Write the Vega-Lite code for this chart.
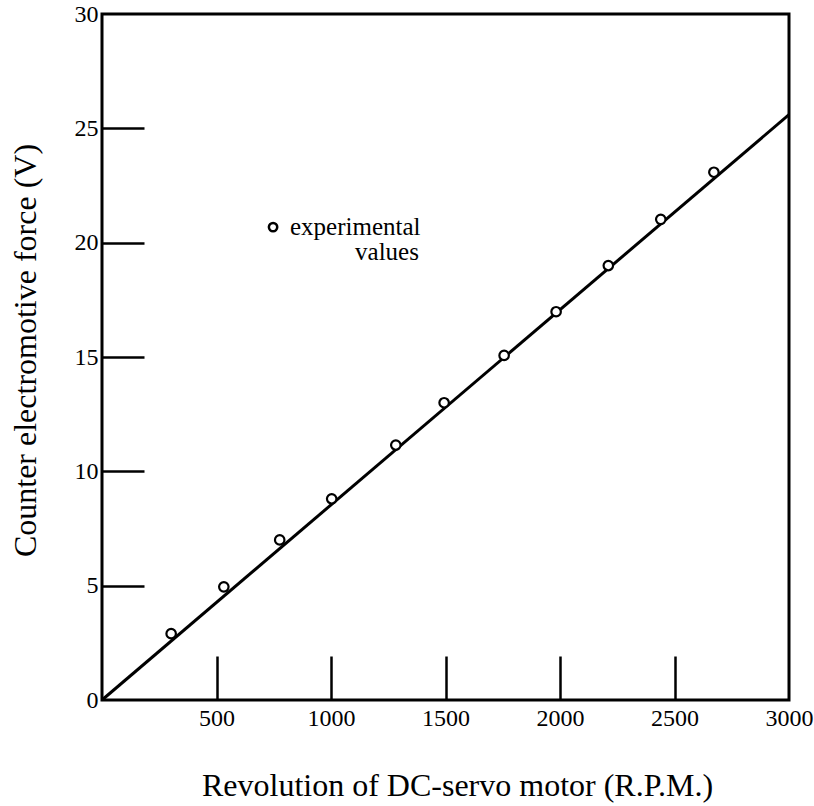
{
  "$schema": "https://vega.github.io/schema/vega-lite/v6.json",
  "width": 687,
  "height": 686,
  "autosize": {"type": "none"},
  "padding": {"left": 102, "top": 14, "right": 25, "bottom": 106},
  "background": "white",
  "config": {
    "view": {"stroke": "black", "strokeWidth": 3},
    "font": "'Liberation Serif', 'DejaVu Serif', serif"
  },
  "encoding": {
    "x": {
      "field": "rpm", "type": "quantitative",
      "scale": {"domain": [0, 3000], "nice": false, "zero": false},
      "axis": {
        "title": "Revolution of DC-servo motor (R.P.M.)",
        "values": [500, 1000, 1500, 2000, 2500, 3000],
        "format": "d",
        "grid": false, "domain": false,
        "tickSize": -44, "tickWidth": 2.5, "tickColor": "black",
        "tickOpacity": {"condition": {"test": "datum.value == 3000", "value": 0}, "value": 1},
        "labelFont": "'Liberation Serif', 'DejaVu Serif', serif", "labelFontSize": 24, "labelColor": "black",
        "labelPadding": 50, "labelFlush": false,
        "titleFont": "'Liberation Serif', 'DejaVu Serif', serif", "titleFontSize": 32, "titleFontWeight": "normal", "titleColor": "black",
        "titleX": 355, "titleY": 85, "titleBaseline": "middle", "titleAlign": "center"
      }
    },
    "y": {
      "field": "emf", "type": "quantitative",
      "scale": {"domain": [0, 30], "nice": false},
      "axis": {
        "title": "Counter electromotive force (V)",
        "values": [0, 5, 10, 15, 20, 25, 30],
        "format": "d",
        "grid": false, "domain": false,
        "tickSize": -42, "tickWidth": 2.5, "tickColor": "black",
        "tickOpacity": {"condition": {"test": "datum.value == 0 || datum.value == 30", "value": 0}, "value": 1},
        "labelFont": "'Liberation Serif', 'DejaVu Serif', serif", "labelFontSize": 24, "labelColor": "black",
        "labelPadding": 46, "labelFlush": false,
        "titleFont": "'Liberation Serif', 'DejaVu Serif', serif", "titleFontSize": 32, "titleFontWeight": "normal", "titleColor": "black",
        "titleX": -77, "titleY": 336, "titleBaseline": "middle", "titleAlign": "center", "titleAngle": -90
      }
    }
  },
  "layer": [
    {
      "data": {"values": [{"rpm": 0, "emf": 0}, {"rpm": 3000, "emf": 25.6}]},
      "mark": {"type": "line", "color": "black", "strokeWidth": 3}
    },
    {
      "data": {"values": [
        {"rpm": 302, "emf": 2.9},
        {"rpm": 532, "emf": 4.95},
        {"rpm": 776, "emf": 7.0},
        {"rpm": 1003, "emf": 8.8},
        {"rpm": 1283, "emf": 11.15},
        {"rpm": 1494, "emf": 13.0},
        {"rpm": 1756, "emf": 15.07},
        {"rpm": 1983, "emf": 16.98},
        {"rpm": 2211, "emf": 19.0},
        {"rpm": 2440, "emf": 21.02},
        {"rpm": 2672, "emf": 23.08}
      ]},
      "mark": {"type": "point", "shape": "circle", "filled": false, "fill": "white", "fillOpacity": 1, "stroke": "black", "strokeWidth": 2.2, "size": 90, "opacity": 1}
    },
    {
      "data": {"values": [{"rpm": 747, "emf": 20.68}]},
      "mark": {"type": "point", "shape": "circle", "filled": false, "fill": "white", "fillOpacity": 1, "stroke": "black", "strokeWidth": 2.5, "size": 70, "opacity": 1}
    },
    {
      "data": {"values": [
        {"rpm": 821, "emf": 20.68, "label": "experimental", "anchor": "left"},
        {"rpm": 1105, "emf": 19.59, "label": "values", "anchor": "center"}
      ]},
      "mark": {"type": "text", "font": "'Liberation Serif', 'DejaVu Serif', serif", "fontSize": 25, "color": "black", "baseline": "middle", "align": "left"},
      "encoding": {
        "text": {"field": "label"},
        "align": {"field": "anchor", "type": "nominal", "scale": null}
      }
    }
  ]
}
